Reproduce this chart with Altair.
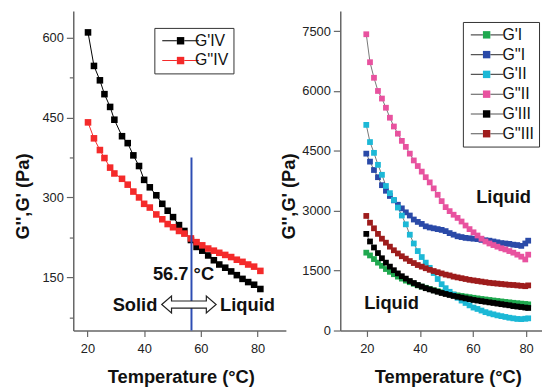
import altair as alt
import pandas as pd

F = "Liberation Sans"

# ---------------- Left panel (sample IV) ----------------
t_iv = [20.2, 22.3, 24.4, 26.0, 28.0, 29.5, 32.2, 34.2, 36.2, 38.2, 40.0, 42.0, 44.3, 46.4, 48.3,
        50.2, 52.3, 54.2, 56.5, 58.5, 60.5, 62.6, 64.6, 66.5, 68.6, 70.7, 72.7, 74.7, 76.7, 78.8, 81.0]
g1_iv = [610, 547, 520, 494, 470, 446, 415, 402, 379, 359, 333, 319, 304, 288, 275,
         263, 248, 237, 220, 207, 200, 191, 182, 174, 168, 161, 154, 147, 141, 136, 128]
g2_iv = [441, 411, 389, 374, 356, 345, 335, 324, 311, 300, 288, 281, 268, 259, 250,
         244, 237, 232, 223, 216, 210, 204, 200, 196, 192, 188, 183, 179, 174, 170, 162]
names_l = ["G'IV", "G''IV"]
colors_l = ["#000000", "#f42a2a"]

# ---------------- Right panel (samples I-III) ----------------
t_r = [19.8, 21.2, 22.7, 24.2, 25.7, 27.2, 28.7, 30.2, 31.7, 33.2, 34.7, 36.2, 37.7, 39.2,
       40.7, 42.2, 43.7, 45.2, 46.7, 48.2, 49.7, 51.2, 52.7, 54.2, 55.7, 57.2, 58.7, 60.2,
       61.7, 63.2, 64.7, 66.2, 67.7, 69.2, 70.7, 72.2, 73.7, 75.2, 76.7, 78.2, 79.7, 80.8]
g1_i = [1950, 1880, 1790, 1700, 1620, 1540, 1470, 1410, 1350, 1300, 1250, 1210, 1170, 1130,
        1100, 1070, 1040, 1010, 985, 960, 940, 920, 900, 880, 865, 850, 835, 820,
        805, 790, 778, 765, 752, 740, 728, 716, 705, 694, 684, 674, 665, 655]
g2_i = [4430, 4230, 4020, 3840, 3640, 3500, 3370, 3260, 3150, 3060, 2960, 2880, 2780, 2720,
        2670, 2610, 2580, 2560, 2540, 2520, 2490, 2440, 2400, 2360, 2340, 2320, 2310, 2300,
        2290, 2270, 2260, 2250, 2230, 2210, 2190, 2180, 2170, 2150, 2140, 2120, 2180, 2250]
g1_ii = [5150, 4720, 4450, 4150, 3900, 3620, 3440, 3270, 3080, 2880, 2660, 2400, 2180, 1990,
         1840, 1700, 1570, 1440, 1290, 1160, 1060, 970, 900, 820, 750, 690, 630, 575,
         540, 500, 460, 430, 405, 380, 360, 340, 320, 305, 290, 285, 295, 305]
g2_ii = [7420, 6720, 6330, 6000, 5810, 5580, 5330, 5110, 4930, 4750, 4600, 4430, 4260, 4120,
         3980, 3840, 3710, 3560, 3400, 3240, 3090, 2990, 2900, 2820, 2730, 2630, 2540, 2460,
         2380, 2300, 2230, 2180, 2140, 2100, 2060, 2030, 1990, 1950, 1900, 1850, 1780, 1900]
g1_iii = [2420, 2230, 2080, 1940, 1810, 1700, 1600, 1510, 1430, 1360, 1300, 1240, 1190, 1140,
          1100, 1060, 1030, 1000, 970, 940, 915, 890, 865, 845, 825, 805, 785, 765,
          750, 735, 720, 705, 690, 675, 660, 645, 632, 612, 600, 588, 575, 565]
g2_iii = [2870, 2700, 2560, 2420, 2300, 2200, 2100, 2010, 1930, 1860, 1800, 1740, 1690, 1640,
          1600, 1560, 1520, 1490, 1460, 1430, 1400, 1380, 1350, 1330, 1310, 1290, 1270, 1255,
          1240, 1225, 1210, 1195, 1185, 1175, 1165, 1155, 1145, 1140, 1130, 1120, 1110, 1130]
names_r = ["G'I", "G''I", "G'II", "G''II", "G'III", "G''III"]
colors_r = ["#1fa84f", "#2a4aa8", "#1cb8d6", "#e8529f", "#000000", "#9e1c1c"]

# annotations
ann_l_text = ["56.7 \u00b0C", "Solid", "Liquid"]
ann_l_T = [43.1, 28.9, 66.8]
ann_l_G = [156, 97.5, 97.5]
arrow_T = [55.8]
arrow_G = [98.8]
trans_T = [56.7]
trans_top = [375]
trans_bot = [50]
ann_r_text = ["Liquid", "Liquid"]
ann_r_T = [61.2, 19.0]
ann_r_G = [3341, 693]

sl = [names_l[0]] * len(t_iv) + [names_l[1]] * len(t_iv)
left_df = pd.DataFrame({"T": t_iv * 2, "G": g1_iv + g2_iv, "s": sl, "sf": sl})
series_r = [g1_i, g2_i, g1_ii, g2_ii, g1_iii, g2_iii]
sr = sum([[n] * len(t_r) for n in names_r], [])
right_df = pd.DataFrame({"T": t_r * 6, "G": sum(series_r, []), "s2": sr, "s2f": sr})


def legend(lx, ly, sym, offset, line):
    kw = dict(title=None, orient="none", legendX=lx, legendY=ly, symbolType=sym,
              symbolSize=100, labelFont=F, labelFontSize=16, labelOffset=offset,
              rowPadding=4, padding=5, labelColor="#111")
    if line:
        kw.update(strokeColor="#333", symbolStrokeWidth=1.1)
    else:
        kw.update(labelOpacity=0, symbolStrokeWidth=0)
    return alt.Legend(**kw)


def xaxis(tx):
    return alt.Axis(values=[20, 30, 40, 50, 60, 70, 80],
                    labelExpr="datum.value % 20 == 0 ? datum.label : ''",
                    tickSize={"condition": {"test": "datum.value % 20 == 0", "value": 6}, "value": 3},
                    labelPadding=6, title="Temperature (\u00b0C)", titleX=tx, titleY=53,
                    titleBaseline="alphabetic")


def yaxis(vals, major, tx):
    return alt.Axis(values=vals,
                    labelExpr=f"datum.value % {major} == 0 ? datum.label : ''",
                    tickSize={"condition": {"test": f"datum.value % {major} == 0", "value": 7}, "value": 4},
                    labelPadding=3, title="G'',G' (Pa)", titleX=tx, titleY=187,
                    titleBaseline="alphabetic", format="d")


xl = alt.X("T:Q", scale=alt.Scale(domain=[15, 90], nice=False, zero=False), axis=xaxis(108.7))
yl = alt.Y("G:Q", scale=alt.Scale(domain=[50, 650], nice=False, zero=False),
           axis=yaxis([75, 150, 225, 300, 375, 450, 525, 600], 150, -45))

sym_line_l = "M-1,0L1.95,0M3.45,0L6.4,0"
sym_sq_l = "M1.95,-0.75L3.45,-0.75L3.45,0.75L1.95,0.75Z"

lines_l = alt.Chart(left_df).mark_line(strokeWidth=1).encode(
    x=xl, y=yl,
    stroke=alt.Stroke("s:N", scale=alt.Scale(domain=names_l, range=colors_l),
                      legend=legend(82, 17, sym_line_l, 20, True)),
)
points_l = alt.Chart(left_df).mark_point(shape="square", filled=True, size=44, opacity=1).encode(
    x="T:Q", y="G:Q",
    fill=alt.Fill("sf:N", sort=names_l, scale=alt.Scale(range=colors_l),
                  legend=legend(82, 17, sym_sq_l, 20, False)),
)
rule_l = alt.Chart(pd.DataFrame({"T": trans_T, "G": trans_top, "G2": trans_bot})).mark_rule(
    color="#2d4db3", strokeWidth=2).encode(x="T:Q", y="G:Q", y2="G2:Q")
text_l = alt.Chart(pd.DataFrame({"T": ann_l_T, "G": ann_l_G, "lab": ann_l_text})).mark_text(
    align="left", baseline="middle", font=F, fontSize=18.5, fontWeight="bold", color="#111"
).encode(x="T:Q", y="G:Q", text="lab:N")
arrow_path = ("M-1,0L-0.64,-0.31L-0.64,-0.13L0.64,-0.13L0.64,-0.31L1,0L0.64,0.31"
              "L0.64,0.13L-0.64,0.13L-0.64,0.31Z")
arrow_l = alt.Chart(pd.DataFrame({"T": arrow_T, "G": arrow_G})).mark_point(
    shape=arrow_path, size=3025, filled=True, fill="white", stroke="#222", strokeWidth=1.2,
    opacity=1).encode(x="T:Q", y="G:Q")

left = alt.layer(lines_l, points_l, rule_l, arrow_l, text_l).properties(width=215, height=323)

xr = alt.X("T:Q", scale=alt.Scale(domain=[10, 86.0], nice=False, zero=False), axis=xaxis(108.7))
yr = alt.Y("G:Q", scale=alt.Scale(domain=[0, 8000], nice=False),
           axis=yaxis([0, 750, 1500, 2250, 3000, 3750, 4500, 5250, 6000, 6750, 7500], 1500, -46))

sym_line_r = "M-1,0L1.45,0M2.95,0L5.6,0"
sym_sq_r = "M1.45,-0.75L2.95,-0.75L2.95,0.75L1.45,0.75Z"

lines_r = alt.Chart(right_df).mark_line(strokeWidth=0.8).encode(
    x=xr, y=yr,
    stroke=alt.Stroke("s2:N", scale=alt.Scale(domain=names_r, range=["#555555"] * 6),
                      legend=legend(124, 11, sym_line_r, 19, True)),
)
points_r = alt.Chart(right_df).mark_point(shape="square", filled=True, size=34, opacity=1).encode(
    x="T:Q", y="G:Q",
    fill=alt.Fill("s2f:N", sort=names_r, scale=alt.Scale(range=colors_r),
                  legend=legend(124, 11, sym_sq_r, 19, False)),
)
text_r = alt.Chart(pd.DataFrame({"T": ann_r_T, "G": ann_r_G, "lab": ann_r_text})).mark_text(
    align="left", baseline="middle", font=F, fontSize=18.5, fontWeight="bold", color="#111"
).encode(x="T:Q", y="G:Q", text="lab:N")

right = alt.layer(lines_r, points_r, text_r).properties(width=204, height=323)

chart = alt.hconcat(left, right, spacing=55, bounds="flush").resolve_scale(
    x="independent", y="independent", stroke="independent", fill="independent"
).properties(
    padding={"left": 6, "top": 1, "right": 0, "bottom": 0}
).configure_view(stroke=None).configure_axis(
    labelFont=F, titleFont=F, labelFontSize=13, titleFontSize=18.5, titleFontWeight="bold",
    labelColor="#222", titleColor="#111", domainColor="#666", tickColor="#666",
    domainWidth=1.5, tickWidth=1.2, grid=False
)

chart.save("out.html", embed_options={"renderer": "svg", "actions": False})
